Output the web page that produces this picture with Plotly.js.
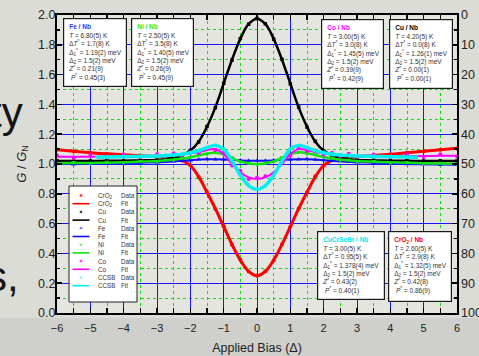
<!DOCTYPE html>
<html><head><meta charset="utf-8">
<script src="https://cdn.plot.ly/plotly-3.0.1.min.js"></script>
<style>html,body{margin:0;padding:0;background:#dcdcd6;} #chart{width:479px;height:356px;}</style>
</head><body><div id="chart"></div>
<script>
// ---- data (G/G_N vs applied bias in units of Delta) ----
const bias = [-6,-5.5,-5,-4.5,-4,-3.5,-3,-2.75,-2.5,-2.25,-2,-1.75,-1.5,-1.25,-1,-0.75,-0.5,-0.25,0,0.25,0.5,0.75,1,1.25,1.5,1.75,2,2.25,2.5,2.75,3,3.5,4,4.5,5,5.5,6];
const ccsbBias = [-4.8,-4.5,-4,-3.5,-3,-2.75,-2.5,-2.25,-2,-1.75,-1.5,-1.25,-1,-0.75,-0.5,-0.25,0,0.25,0.5,0.75,1,1.25,1.5,1.75,2,2.25,2.5,2.75,3,3.5,4,4.5,4.8];

const cro2Fit  = [1.095,1.085,1.075,1.068,1.062,1.056,1.05,1.046,1.04,1.025,0.99,0.915,0.81,0.70,0.58,0.46,0.355,0.28,0.25,0.28,0.355,0.46,0.58,0.70,0.81,0.915,0.99,1.025,1.04,1.046,1.05,1.057,1.065,1.075,1.085,1.095,1.105];
const cro2Data = [1.097,1.084,1.077,1.066,1.063,1.055,1.051,1.045,1.041,1.023,0.992,0.913,0.812,0.698,0.582,0.458,0.357,0.279,0.252,0.281,0.353,0.462,0.579,0.702,0.808,0.917,0.988,1.027,1.039,1.047,1.049,1.058,1.064,1.076,1.084,1.096,1.104];
const cuFit    = [1.02,1.02,1.02,1.021,1.022,1.024,1.027,1.032,1.04,1.058,1.09,1.15,1.25,1.38,1.54,1.70,1.84,1.94,1.975,1.94,1.84,1.70,1.54,1.38,1.25,1.15,1.09,1.058,1.04,1.032,1.027,1.024,1.022,1.021,1.02,1.02,1.02];
const cuData   = [1.021,1.019,1.02,1.022,1.021,1.025,1.026,1.033,1.041,1.057,1.092,1.148,1.252,1.378,1.542,1.698,1.842,1.938,1.976,1.941,1.838,1.702,1.538,1.382,1.248,1.152,1.088,1.059,1.039,1.033,1.026,1.025,1.021,1.022,1.019,1.021,1.02];
const feFit    = [1.0,1.0,1.0,1.002,1.005,1.008,1.012,1.015,1.018,1.022,1.026,1.03,1.032,1.032,1.03,1.027,1.024,1.022,1.021,1.022,1.024,1.027,1.03,1.032,1.032,1.03,1.026,1.022,1.018,1.015,1.012,1.008,1.004,1.0,0.998,0.996,0.995];
const feData   = [1.002,0.998,1.001,1.003,1.004,1.01,1.011,1.016,1.017,1.023,1.025,1.031,1.033,1.031,1.031,1.026,1.025,1.021,1.022,1.021,1.025,1.026,1.031,1.031,1.033,1.029,1.027,1.021,1.019,1.014,1.013,1.007,1.005,0.999,0.999,0.995,0.996];
const niFit    = [1.005,1.006,1.007,1.009,1.012,1.016,1.02,1.024,1.03,1.037,1.046,1.058,1.07,1.075,1.065,1.04,1.018,1.004,1.0,1.004,1.018,1.04,1.066,1.078,1.073,1.06,1.047,1.037,1.03,1.024,1.02,1.015,1.011,1.008,1.005,1.003,1.002];
const niData   = [1.0,1.012,1.003,1.014,1.008,1.02,1.013,1.028,1.026,1.041,1.043,1.062,1.066,1.079,1.061,1.044,1.013,1.008,0.996,1.009,1.014,1.045,1.062,1.082,1.069,1.064,1.043,1.041,1.026,1.028,1.015,1.019,1.006,1.012,1.001,1.007,0.999];
const coFit    = [1.048,1.048,1.049,1.05,1.051,1.053,1.056,1.058,1.061,1.065,1.07,1.08,1.093,1.10,1.065,1.0,0.945,0.91,0.90,0.91,0.945,1.0,1.065,1.10,1.093,1.08,1.07,1.065,1.061,1.058,1.056,1.054,1.053,1.053,1.054,1.055,1.056];
const coData   = [1.058,1.041,1.06,1.045,1.062,1.047,1.066,1.052,1.072,1.058,1.079,1.073,1.104,1.094,1.075,0.99,0.955,0.9,0.908,0.918,0.935,1.01,1.055,1.108,1.088,1.09,1.062,1.075,1.053,1.068,1.049,1.064,1.046,1.065,1.047,1.066,1.05];
const ccsbFit  = [1.046,1.047,1.049,1.051,1.054,1.057,1.06,1.066,1.075,1.09,1.11,1.125,1.10,1.02,0.925,0.855,0.83,0.855,0.925,1.02,1.10,1.125,1.11,1.09,1.075,1.066,1.06,1.057,1.054,1.051,1.049,1.047,1.046];
const ccsbData = [1.047,1.045,1.05,1.052,1.053,1.058,1.059,1.067,1.074,1.091,1.109,1.126,1.098,1.022,0.923,0.856,0.831,0.854,0.927,1.018,1.102,1.124,1.111,1.089,1.076,1.065,1.061,1.056,1.055,1.05,1.05,1.046,1.047];

const seriesNames = ['CrO<sub>2</sub>','Cu','Fe','Ni','Co','CCSB'];
const rightTicks = [0,10,20,30,40,50,60,70,80,90,100];

const boxTitles = ['Fe / Nb','Ni / Nb','Co / Nb','Cu / Nb','CuCrSeBr / Nb','CrO<sub>2</sub> / Nb'];
const boxT   = ['6.80(5)','2.50(5)','3.00(5)','4.20(5)','3.00(5)','2.60(5)'];
const boxDT  = ['1.7(8)','3.5(8)','3.0(8)','0.0(8)','0.95(5)','2.9(8)'];
const boxD1  = ['1.19(2)','1.40(5)','1.45(5)','1.26(1)','1.378(4)','1.32(5)'];
const boxD2  = ['1.5(2)','1.5(2)','1.5(2)','1.5(2)','1.5(2)','1.5(2)'];
const boxZ   = ['0.21(9)','0.26(9)','0.39(9)','0.00(1)','0.43(2)','0.42(8)'];
const boxP   = ['0.45(3)','0.45(9)','0.42(9)','0.00(1)','0.40(1)','0.86(9)'];

// ---- styling ----
const L=57, R=457, T=15, B=313;
const px = v => (v-L)/(R-L);
const py = v => (B-v)/(B-T);
const dx = v => -6 + (v-L)/(R-L)*12;
const dy = v => (B-v)/(B-T)*2;

const styles = [
  {color:'#ff0000', symbol:'circle', msize:4, lw:3},
  {color:'#000000', symbol:'square', msize:3.5, lw:2.5},
  {color:'#1010ff', symbol:'triangle-up', msize:4.5, lw:2},
  {color:'#11e011', symbol:'triangle-down', msize:4.5, lw:2.5},
  {color:'#ff00ff', symbol:'circle', msize:4, lw:2},
  {color:'#00f0f0', symbol:'triangle-left', msize:4.5, lw:3.5}
];
const xsets = [bias,bias,bias,bias,bias,ccsbBias];
const fits = [cro2Fit,cuFit,feFit,niFit,coFit,ccsbFit];
const datas = [cro2Data,cuData,feData,niData,coData,ccsbData];

const traces = [];
for (let i=0;i<6;i++){
  traces.push({x:xsets[i], y:datas[i], mode:'markers', type:'scatter', hoverinfo:'skip',
    marker:{color:styles[i].color, symbol:styles[i].symbol, size:styles[i].msize, line:{width:0}}});
  traces.push({x:xsets[i], y:fits[i], mode:'lines', type:'scatter', hoverinfo:'skip',
    line:{color:styles[i].color, width:styles[i].lw, shape:'spline', smoothing:1}});
}
// right axis carrier
traces.push({x:[], y:[], yaxis:'y2', type:'scatter', mode:'markers', hoverinfo:'skip'});

// legend
const legTop=195.5, legStep=8.2;
const shapes = [
  {type:'rect', xref:'x', yref:'y', x0:dx(69), x1:dx(137), y0:dy(302), y1:dy(186),
   fillcolor:'#ffffff', line:{color:'#222', width:1}, layer:'between'},
  {type:'rect', xref:'paper', yref:'paper', x0:px(-20), x1:px(500), y0:py(318), y1:py(380),
   fillcolor:'#cfcfcb', line:{width:0}, layer:'below'}
];
const annotations = [];
const legMX=[], legMY=[], legMC=[], legMS=[], legMZ=[];
for (let i=0;i<6;i++){
  const yD = legTop + (2*i)*legStep, yF = legTop + (2*i+1)*legStep;
  legMX.push(dx(81)); legMY.push(dy(yD)); legMC.push(styles[i].color); legMS.push(styles[i].symbol); legMZ.push(styles[i].msize);
  shapes.push({type:'line', xref:'paper', yref:'paper', x0:px(72.5), x1:px(89.5), y0:py(yF), y1:py(yF),
    line:{color:styles[i].color, width:1.6}, layer:'above'});
  [[yD,'Data'],[yF,'Fit']].forEach(([yy,lab])=>{
    annotations.push({xref:'paper', yref:'paper', x:px(96), y:py(yy), xanchor:'left', yanchor:'middle',
      text:seriesNames[i], showarrow:false, font:{size:6.3, color:'#333'}});
    annotations.push({xref:'paper', yref:'paper', x:px(119), y:py(yy), xanchor:'left', yanchor:'middle',
      text:lab, showarrow:false, font:{size:6.3, color:'#333'}});
  });
}
traces.push({x:legMX, y:legMY, mode:'markers', type:'scatter', hoverinfo:'skip',
  marker:{color:legMC, symbol:legMS, size:legMZ}});

// parameter boxes
const boxPos = [[63,127,18,87],[131,194,18,87],[321,384,19,89],[389,453,19,89],[317,385,231,300],[388,452,231,302]];
const boxColors = ['#3333ff','#22ee22','#ff00ff','#000000','#00e8f0','#ff0000'];
for (let i=0;i<6;i++){
  const [x0,x1,y0,y1]=boxPos[i];
  const txt = `<b><span style="color:${boxColors[i]}">${boxTitles[i]}</span></b><br>`+
    `<i>T</i> = ${boxT[i]} K<br>`+
    `Δ<i>T</i><sup>*</sup> = ${boxDT[i]} K<br>`+
    `Δ<sub>1</sub><sup>*</sup> = ${boxD1[i]} meV<br>`+
    `Δ<sub>2</sub> = ${boxD2[i]} meV<br>`+
    `<i>Z</i><sup>*</sup> = ${boxZ[i]}<br>`+
    ` <i>P</i><sup>*</sup> = ${boxP[i]}`;
  annotations.push({xref:'paper', yref:'paper', x:px(x0), y:py(y0), xanchor:'left', yanchor:'top',
    text:txt, showarrow:false, align:'left', valign:'top', width:(x1-x0)-10, height:(y1-y0)-10,
    bgcolor:'#ffffff', bordercolor:'#1a1a1a', borderwidth:1.2, borderpad:4,
    font:{size:6.5, color:'#333'}});
}
// slide text behind the chart
annotations.push({xref:'paper', yref:'paper', x:px(25), y:py(113), xanchor:'right', yanchor:'middle',
  text:'ty', showarrow:false, font:{size:42, color:'#151515'}});
annotations.push({xref:'paper', yref:'paper', x:px(21), y:py(276), xanchor:'right', yanchor:'middle',
  text:'s,', showarrow:false, font:{size:42, color:'#151515'}});

const layout = {
  width:479, height:356,
  margin:{l:L, r:479-R, t:T, b:356-B, pad:0},
  paper_bgcolor:'#dcdcd6', plot_bgcolor:'#e5e5e0',
  font:{family:'Arial, "Liberation Sans", sans-serif', color:'#222', size:11},
  showlegend:false,
  xaxis:{range:[-6,6], tick0:-6, dtick:1, showgrid:true, gridcolor:'#1414ff', gridwidth:1, zeroline:false,
    showline:true, linecolor:'#000', linewidth:2, mirror:'allticks', ticks:'inside', ticklen:5, tickwidth:1.5, tickcolor:'#000',
    tickfont:{size:11}, ticklabelstandoff:4, fixedrange:true,
    minor:{dtick:0.5, showgrid:true, gridcolor:'#10e010', griddash:'dot', gridwidth:1, ticks:'inside', ticklen:3, tickcolor:'#000'},
    title:{text:'Applied Bias (Δ)', font:{size:12.5}, standoff:10}},
  yaxis:{range:[0,2], tick0:0, dtick:0.2, tickformat:'.1f', showgrid:true, gridcolor:'#1414ff', gridwidth:1, zeroline:false,
    showline:true, linecolor:'#000', linewidth:2, mirror:'allticks', ticks:'inside', ticklen:5, tickwidth:1.5, tickcolor:'#000',
    tickfont:{size:12.5}, ticklabelstandoff:-3, fixedrange:true,
    minor:{dtick:0.1, showgrid:true, gridcolor:'#10e010', griddash:'dot', gridwidth:1, ticks:'inside', ticklen:3, tickcolor:'#000'},
    title:{text:'<i>G</i> / <i>G</i><sub>N</sub>', font:{size:13}, standoff:9}},
  yaxis2:{overlaying:'y', side:'right', range:[100,0], tickvals:rightTicks, showgrid:false, zeroline:false,
    showline:false, ticks:'', tickfont:{size:12.5}, ticklabelstandoff:3, fixedrange:true},
  shapes:shapes, annotations:annotations
};
Plotly.newPlot('chart', traces, layout, {displayModeBar:false, staticPlot:true});
</script>
</body></html>
